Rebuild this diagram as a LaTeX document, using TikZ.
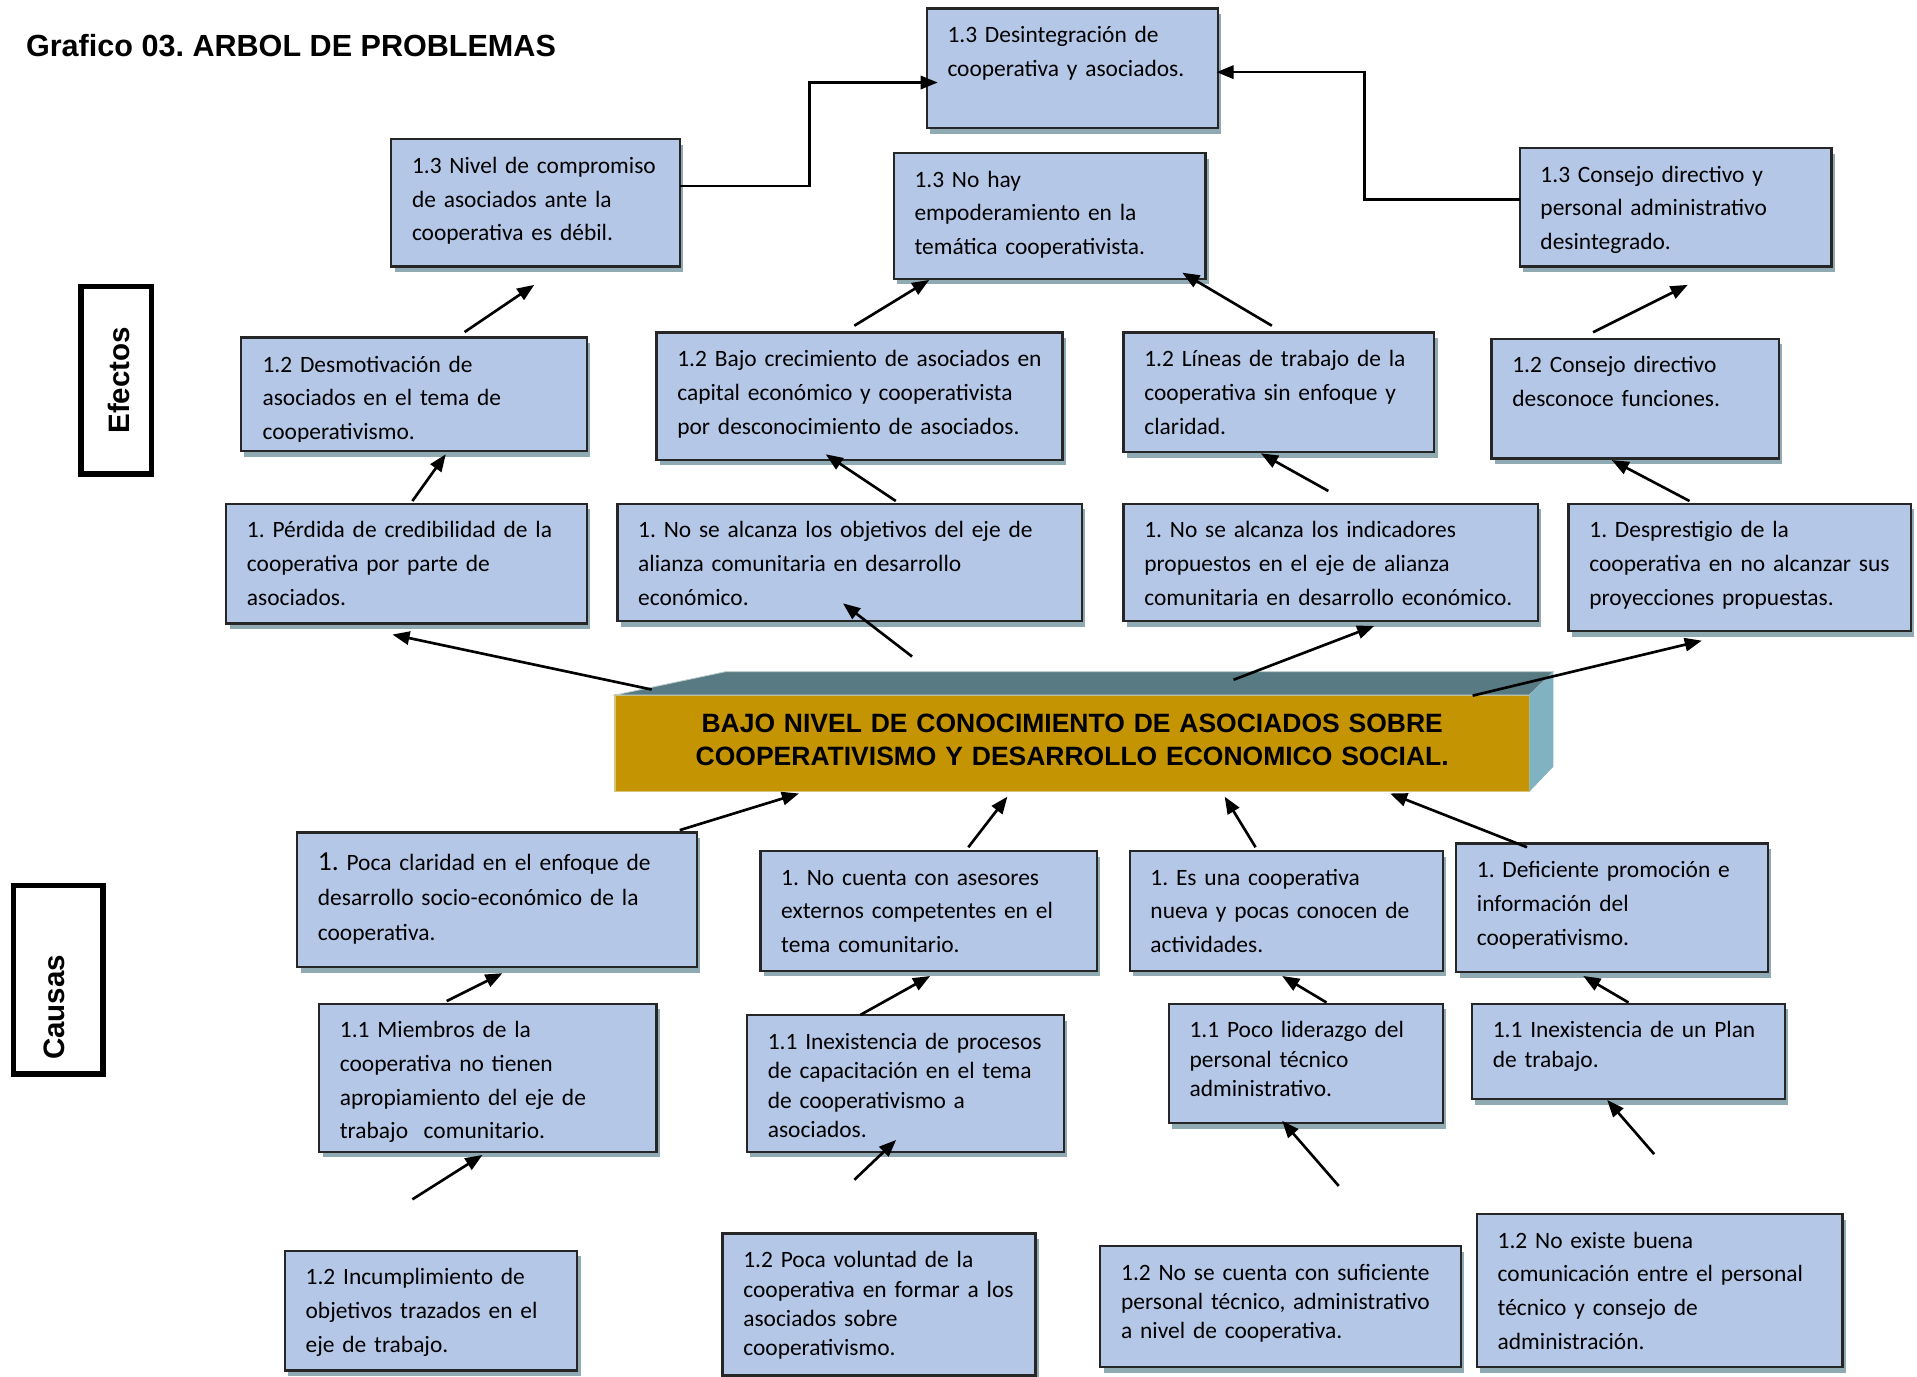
\documentclass[tikz,border=0pt]{standalone}
\usepackage{fontspec}
\setmainfont{Carlito}
\newfontfamily\arialfont{Liberation Sans}
\usetikzlibrary{arrows.meta,fit,shadows}
\frenchspacing
\definecolor{boxfill}{RGB}{180,199,231}
\definecolor{boxline}{RGB}{38,38,38}
\definecolor{shadowc}{RGB}{143,170,178}
\definecolor{gold}{RGB}{196,148,2}
\definecolor{goldedge}{RGB}{214,196,120}
\definecolor{topface}{RGB}{88,123,131}
\definecolor{sideface}{RGB}{128,178,194}
\definecolor{topedge}{RGB}{190,205,205}
\tikzset{
  pbox/.style={draw=boxline, fill=boxfill, line width=1.1pt, inner sep=0pt, outer sep=0pt,
    drop shadow={shadow xshift=1.7pt, shadow yshift=-2.8pt, fill=shadowc, opacity=1}},
  txt/.style={anchor=base west, inner sep=0pt, outer sep=0pt, align=left,
    font=\frenchspacing\fontsize{11.5}{16.5}\selectfont},
  txts/.style={txt, font=\frenchspacing\fontsize{11.5}{14.4}\selectfont},
  arr/.style={line width=1.3pt, -{Triangle[length=8.4pt,width=6.5pt]}},
  sidebox/.style={draw=black, line width=2.8pt, fill=white, inner sep=0pt, outer sep=0pt},
  sidetxt/.style={rotate=90, inner sep=0pt, font=\arialfont\bfseries\fontsize{14.5}{17}\selectfont},
}
\newcommand\probbox[7][txt]{%
  \node[pbox, fit={(#3,#4) (#5,#6)}] (#2) {};
  \pgfmathsetmacro\pbtw{(#5-#3-20)*0.6}%
  \node[#1, text width=\pbtw pt] (#2-t) at ([shift={(17,28)}]#2.north west) {#7};
}
\begin{document}
\begin{tikzpicture}[x=0.6pt,y=-0.6pt]
\useasboundingbox (0,0) rectangle (1568,1126.3);
\fill[white] (0,0) rectangle (1568,1126.3);

% title
\node[anchor=base west, inner sep=0pt, font=\frenchspacing\arialfont\bfseries\fontsize{15}{18}\selectfont] (title) at (21,46.4) {Grafico 03. ARBOL DE PROBLEMAS};

% side labels
\node[sidebox, fit={(66.2,234.3) (123.8,387.7)}] (efectos) {};
\node[sidetxt] (efectos-t) at (97,311) {Efectos};
\node[sidebox, fit={(11,724.3) (84.5,878.7)}] (causas) {};
\node[sidetxt] (causas-t) at (44.5,824) {Causas};

% effects
\probbox{a13}{758}{7}{996}{105}{1.3 Desintegración de\\cooperativa y asociados.}
\probbox{b13}{320}{114}{556}{218}{1.3 Nivel de compromiso\\de asociados ante la\\cooperativa es débil.}
\probbox{c13}{731}{125}{986}{228}{1.3 No hay\\empoderamiento en la\\temática cooperativista.}
\probbox{d13}{1243}{121}{1498}{218}{1.3 Consejo directivo y\\personal administrativo\\desintegrado.}

\node[pbox, fit={(197,276) (480,369)}] (e12) {};
\begin{scope}
  \clip (e12.north west) rectangle ([shift={(0,-7.5)}]e12.south east);
  \node[txt, text width=150pt] (e12-t) at ([shift={(17.8,28.5)}]e12.north west) {1.2 Desmotivación de\\asociados en el tema de\\cooperativismo.};
\end{scope}
\probbox{f12}{537}{272}{869}{376}{1.2 Bajo crecimiento de asociados en\\capital económico y cooperativista\\por desconocimiento de asociados.}
\probbox{g12}{919}{272}{1173}{370}{1.2 Líneas de trabajo de la\\cooperativa sin enfoque y\\claridad.}
\probbox{h12}{1220}{277}{1455}{375}{1.2 Consejo directivo\\desconoce funciones.}

\probbox{i1}{185}{412}{480}{510}{1. Pérdida de credibilidad de la\\cooperativa por parte de\\asociados.}
\probbox{j1}{505}{412}{885}{508}{1. No se alcanza los objetivos del eje de\\alianza comunitaria en desarrollo\\económico.}
\probbox{k1}{919}{412}{1258}{508}{1. No se alcanza los indicadores\\propuestos en el eje de alianza\\comunitaria en desarrollo económico.}
\probbox{l1}{1283}{412}{1563}{516}{1. Desprestigio de la\\cooperativa en no alcanzar sus\\proyecciones propuestas.}

% central problem
\node[fill=gold, draw=goldedge, line width=0.7pt, inner sep=0pt, outer sep=0pt, fit={(503,568.5) (1251,647.5)}] (core) {};
\filldraw[fill=topface, draw=topedge, line width=0.4pt] (core.north west) -- (593.4,549.4) -- (1270.6,549.4) -- (core.north east) -- cycle;
\fill[sideface] (core.north east) -- (1270.6,549.4) -- (1270.6,627) -- (core.south east) -- cycle;
\node[anchor=base, inner sep=0pt, align=center, text width=440pt, font=\frenchspacing\arialfont\bfseries\fontsize{13}{15.9}\selectfont] (core-t) at ([shift={(0,30.8)}]core.north) {BAJO NIVEL DE CONOCIMIENTO DE ASOCIADOS SOBRE\\COOPERATIVISMO Y DESARROLLO ECONOMICO SOCIAL.};

% causes
\node[pbox, fit={(243,681) (570,791)}] (m1) {};
\node[txt, font=\frenchspacing\fontsize{11.5}{17.1}\selectfont, text width=185pt] (m1-t) at ([shift={(17,31)}]m1.north west) {{\fontsize{13.5}{17.1}\selectfont 1.} Poca claridad en el enfoque de\\desarrollo socio-económico de la\\cooperativa.};
\probbox{n1}{622}{696}{897}{794}{1. No cuenta con asesores\\externos competentes en el\\tema comunitario.}
\probbox{o1}{924}{696}{1180}{794}{1. Es una cooperativa\\nueva y pocas conocen de\\actividades.}
\probbox{p1}{1191}{690}{1446}{795}{1. Deficiente promoción e\\información del\\cooperativismo.}

\probbox{q11}{261}{821}{537}{942}{1.1 Miembros de la\\cooperativa no tienen\\apropiamiento del eje de\\trabajo\ \ comunitario.}
\probbox[txts]{r11}{611}{830.5}{870}{942}{1.1 Inexistencia de procesos\\de capacitación en el tema\\de cooperativismo a\\asociados.}
\probbox[txts]{s11}{956}{821}{1180}{918.5}{1.1 Poco liderazgo del\\personal técnico\\administrativo.}
\probbox[txts]{t11}{1204}{821}{1460}{899}{1.1 Inexistencia de un Plan\\de trabajo.}

\probbox{u12}{233}{1023}{472}{1121}{1.2 Incumplimiento de\\objetivos trazados en el\\eje de trabajo.}
\probbox[txts]{v12}{591}{1009}{847}{1125}{1.2 Poca voluntad de la\\cooperativa en formar a los\\asociados sobre\\cooperativismo.}
\probbox[txts]{w12}{900}{1019}{1195}{1118}{1.2 No se cuenta con suficiente\\personal técnico, administrativo\\a nivel de cooperativa.}
\probbox{x12}{1208}{993}{1507}{1118}{1.2 No existe buena\\comunicación entre el personal\\técnico y consejo de\\administración.}

% connectors (effects)
\draw[arr] ([shift={(0,-14)}]b13.east) -- ++(106,0) |- ([shift={(9,11.5)}]a13.west);
\draw[arr] ([shift={(0,-6.5)}]d13.west) -- ++(-127,0) |- ([shift={(-1,3)}]a13.east);
\draw[arr] ([shift={(183,-4.4)}]e12.north west) -- ([shift={(117,15)}]b13.south west);
\draw[arr] ([shift={(161.8,-5.6)}]f12.north west) -- ([shift={(29,1)}]c13.south west);
\draw[arr] ([shift={(121.3,-5.6)}]g12.north west) -- ([shift={(236,-5)}]c13.south west);
\draw[arr] ([shift={(83,-5.2)}]h12.north west) -- ([shift={(137.5,15)}]d13.south west);
\draw[arr] ([shift={(152.3,-2.2)}]i1.north west) -- ([shift={(167.6,2.6)}]e12.south west);
\draw[arr] ([shift={(227.7,-2.2)}]j1.north west) -- ([shift={(138.4,-4.4)}]f12.south west);
\draw[arr] ([shift={(167.5,-10.4)}]k1.north west) -- ([shift={(112.3,0.8)}]g12.south west);
\draw[arr] ([shift={(98.9,-2.2)}]l1.north west) -- ([shift={(98.3,1.3)}]h12.south west);
\draw[arr] ([shift={(30,-4.5)}]core.north west) -- ([shift={(136,9)}]i1.south west);
\draw[arr] ([shift={(243,-31.5)}]core.north west) -- ([shift={(184.5,-14.5)}]j1.south west);
\draw[arr] ([shift={(506,-12.5)}]core.north west) -- ([shift={(205,4)}]k1.south west);
\draw[arr] ([shift={(701.5,0.5)}]core.north west) -- ([shift={(109,8)}]l1.south west);

% connectors (causes)
\draw[arr] ([shift={(313,-2)}]m1.north west) -- ([shift={(150.5,1.5)}]core.south west);
\draw[arr] ([shift={(170,-3)}]n1.north west) -- ([shift={(321,4.1)}]core.south west);
\draw[arr] ([shift={(103,-3)}]o1.north west) -- ([shift={(498.7,4.1)}]core.south west);
\draw[arr] ([shift={(58,3)}]p1.north west) -- ([shift={(634,1.5)}]core.south west);
\draw[arr] ([shift={(104.4,-2.2)}]q11.north west) -- ([shift={(168,5)}]m1.south west);
\draw[arr] ([shift={(92.6,-0.3)}]r11.north west) -- ([shift={(138.8,4.3)}]n1.south west);
\draw[arr] ([shift={(129,-1)}]s11.north west) -- ([shift={(124.7,4.3)}]o1.south west);
\draw[arr] ([shift={(128,-1)}]t11.north west) -- ([shift={(104,3.3)}]p1.south west);
\coordinate (q11in) at (337.3,981);
\coordinate (r11in) at (698.8,965);
\coordinate (s11in) at (1095,970);
\coordinate (t11in) at (1353,944);
\draw[arr] (q11in) -- ([shift={(133.6,2.7)}]q11.south west);
\draw[arr] (r11in) -- ([shift={(122,-9.6)}]r11.south west);
\draw[arr] (s11in) -- ([shift={(92.7,-1.8)}]s11.south west);
\draw[arr] (t11in) -- ([shift={(110.6,0.7)}]t11.south west);
\end{tikzpicture}
\end{document}
